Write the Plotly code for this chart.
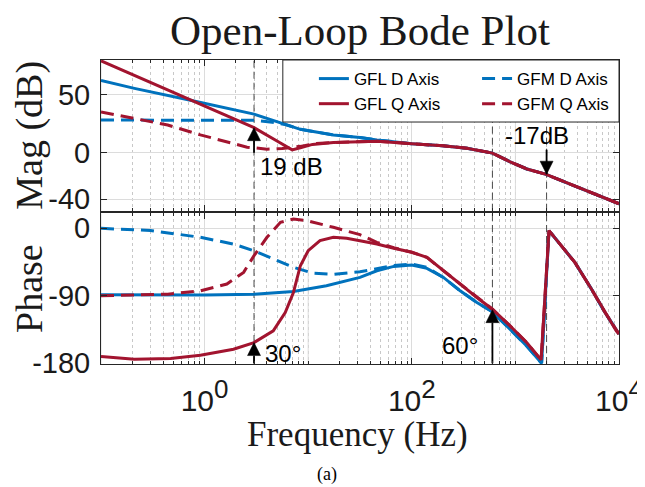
import numpy as np
import plotly.graph_objects as go
from plotly.subplots import make_subplots

# ---------------- data ----------------
# Magnitude (dB)
mag_gfl_d_f = [0.1, 0.21, 0.73, 3, 6, 8.4, 17.5, 31.6, 46, 100, 200, 340, 600, 890, 1290, 1950, 3750, 9440, 10000]
mag_gfl_d = [62.3, 55.5, 45.2, 33.3, 24.4, 20.2, 15.3, 13.2, 11.1, 7.7, 6.0, 3.9, -0.3, -7.8, -14.0, -18.5, -28.8, -43.0, -44.0]

mag_gfm_d_f = [0.1, 0.5, 1, 3, 4.5, 6, 8.4, 17.5, 31.6, 46, 100, 200, 340, 600, 890, 1290, 1950, 3750, 9440, 10000]
mag_gfm_d = [28.2, 28.2, 28.1, 28.0, 26.3, 24.4, 20.2, 15.3, 13.2, 11.1, 7.7, 6.0, 3.9, -0.3, -7.8, -14.0, -18.5, -28.8, -43.0, -44.0]

mag_gfl_q_f = [0.1, 0.73, 3, 5, 7, 8.4, 11, 17.5, 31.6, 46, 100, 200, 340, 600, 890, 1290, 1950, 3750, 9440, 10000]
mag_gfl_q = [79.3, 45.2, 21.6, 10.1, 2.5, 4.3, 7.2, 8.8, 9.6, 10.0, 7.7, 6.0, 3.9, -0.3, -7.8, -14.0, -18.5, -28.8, -43.0, -44.0]

mag_gfm_q_f = [0.1, 0.44, 0.91, 2.57, 4, 5.6, 8.4, 12, 17.5, 31.6, 46, 100, 200, 340, 600, 890, 1290, 1950, 3750, 9440, 10000]
mag_gfm_q = [35.2, 23.9, 15.4, 4.8, 3.1, 3.6, 5.5, 7.9, 8.8, 9.6, 10.0, 7.7, 6.0, 3.9, -0.3, -7.8, -14.0, -18.5, -28.8, -43.0, -44.0]

# Phase (deg)
ph_gfl_d_f = [0.1, 0.47, 1, 3, 7.2, 15, 31.6, 46, 67, 100, 140, 202, 293, 425, 600, 887, 1285, 1790, 2110, 3750, 5420, 7300, 9440, 10000]
ph_gfl_d = [-88.7, -89, -89, -87.8, -84.2, -76.7, -65.5, -56.6, -50.8, -49, -53.5, -65.5, -83.4, -99, -111.4, -134.6, -157, -180, -3.1, -45.5, -81, -112, -137, -141]

ph_gfm_d_f = [0.1, 0.3, 0.91, 1.9, 3, 4.6, 7.2, 11.2, 17.5, 31.6, 46, 67, 100, 140, 202, 293, 425, 600, 887, 1285, 1790, 2110, 3750, 5420, 7300, 9440, 10000]
ph_gfm_d = [0, -3, -12, -21, -30, -41, -52, -60, -61.5, -58, -54, -49.5, -47.7, -52, -65.5, -83.4, -99, -111.4, -134.6, -157, -180, -3.1, -45.5, -81, -112, -137, -141]

ph_gfl_q_f = [0.1, 0.21, 0.47, 0.91, 1.9, 3, 4.6, 6, 7.2, 8.4, 10, 13, 17.5, 23.5, 31.6, 46, 67, 100, 140, 202, 293, 425, 600, 887, 1285, 1770, 2110, 3750, 5420, 7300, 9440, 10000]
ph_gfl_q = [-171, -174.7, -173.8, -169.4, -161.3, -152.4, -136.8, -112.3, -85.6, -49.9, -29.9, -16.5, -12, -13.4, -16.5, -21, -26.7, -32, -38.8, -56.6, -74.4, -92.3, -107.9, -130, -152.4, -175.5, -3.1, -45.5, -81, -112, -137, -141]

ph_gfm_q_f = [0.1, 0.44, 0.91, 1.64, 2.38, 3, 4, 5.4, 7.2, 9.7, 17.5, 31.6, 46, 67, 100, 140, 202, 293, 425, 600, 887, 1285, 1770, 2110, 3750, 5420, 7300, 9440, 10000]
ph_gfm_q = [-90, -87.8, -83.4, -74.4, -58.8, -36.5, -12, 8, 12.5, 10.3, 1.3, -8.5, -18.7, -26, -32, -38.8, -56.6, -74.4, -92.3, -107.9, -130, -152.4, -175.5, -3.1, -45.5, -81, -112, -137, -141]

marker_freqs = [3, 600, 2000]
mag_ticks = [-40, 0, 50]
mag_tick_text = ["-40", "0", "50"]
phase_ticks = [-180, -90, 0]
phase_tick_text = ["-180", "-90", "0"]
x_labeled = [1, 100, 10000]
x_labeled_exp = ["0", "2", "4"]
x_odd_decades = [0.1, 10, 1000]
x_minor = [m * d for d in [0.1, 1, 10, 100, 1000] for m in range(2, 10)]

# arrows: (freq, tail, tip) ; labels: (freq, value, text, anchor)
mag_arrows = [(3, 0.0, 21.6), (2000, 2.6, -18.5)]
mag_labels = [(3.3, -11.5, "19 dB", "left"), (1620, 15.2, "-17dB", "center")]
ph_arrows = [(3, -180, -152.4), (600, -180, -108.5)]
ph_labels = [(3.7, -167, "30°", "left"), (460, -156.5, "60°", "right")]

series = [
    ("GFL D Axis", "#0072BD", "solid", "legend", mag_gfl_d_f, mag_gfl_d, ph_gfl_d_f, ph_gfl_d),
    ("GFM D Axis", "#0072BD", "13px,7px", "legend2", mag_gfm_d_f, mag_gfm_d, ph_gfm_d_f, ph_gfm_d),
    ("GFL Q Axis", "#A2142F", "solid", "legend", mag_gfl_q_f, mag_gfl_q, ph_gfl_q_f, ph_gfl_q),
    ("GFM Q Axis", "#A2142F", "13px,7px", "legend2", mag_gfm_q_f, mag_gfm_q, ph_gfm_q_f, ph_gfm_q),
]

MAG_RANGE = [-50, 80]
PH_RANGE = [-181, 20]

fig = make_subplots(rows=2, cols=1, shared_xaxes=True, vertical_spacing=0)

# solid grid lines at the unlabeled decades (MATLAB major grid)
for f in x_odd_decades:
    for row, rng in ((1, MAG_RANGE), (2, PH_RANGE)):
        fig.add_trace(go.Scatter(x=[f, f], y=rng, mode="lines", showlegend=False, hoverinfo="skip",
                                 line=dict(color="#dcdcdc", width=1)), row=row, col=1)

# vertical dashed marker lines
for f in marker_freqs:
    for row, rng in ((1, MAG_RANGE), (2, PH_RANGE)):
        fig.add_trace(go.Scatter(x=[f, f], y=rng, mode="lines", showlegend=False, hoverinfo="skip",
                                 line=dict(color="#4a4a4a", width=1, dash="7px,4px")), row=row, col=1)

for name, color, dash, leg, mf, mv, pf, pv in series:
    fig.add_trace(go.Scatter(x=mf, y=mv, mode="lines", name=name, legend=leg, legendgroup=name,
                             line=dict(color=color, width=3, dash=dash)), row=1, col=1)
    fig.add_trace(go.Scatter(x=pf, y=pv, mode="lines", name=name, showlegend=False, legendgroup=name,
                             line=dict(color=color, width=3, dash=dash)), row=2, col=1)

# arrows (shaft + head marker at the tip)
for row, arrows in ((1, mag_arrows), (2, ph_arrows)):
    for f, tail, tip in arrows:
        sym = "arrow-up" if tip > tail else "arrow-down"
        fig.add_trace(go.Scatter(x=[f, f], y=[tail, tip], mode="lines+markers", showlegend=False,
                                 hoverinfo="skip", line=dict(color="black", width=1.8),
                                 marker=dict(symbol=sym, size=[0, 13], color="black", opacity=1,
                                             line=dict(width=0.5, color="black"))), row=row, col=1)

axis_col = "#262626"
tick_font = dict(family="Liberation Sans, Arial", size=29, color="#1a1a1a")
title_font = dict(family="Liberation Serif, Times New Roman", size=38, color="#1a1a1a")
x_tick_text = ["10<sup><span style='font-size:26px'>%s</span></sup>" % e for e in x_labeled_exp]

common_x = dict(type="log", range=[-1, 4], showline=True, linecolor=axis_col, linewidth=1, mirror="ticks",
                ticks="inside", ticklen=6, tickcolor=axis_col, tickmode="array", tickvals=x_labeled,
                ticktext=x_tick_text, showgrid=True, gridcolor="#dcdcdc", gridwidth=1,
                minor=dict(tickmode="array", tickvals=x_minor + x_odd_decades, ticks="inside", ticklen=3,
                           tickcolor=axis_col, showgrid=True, gridcolor="#c8c8c8", griddash="dot", gridwidth=1),
                zeroline=False, tickfont=dict(family="Liberation Sans, Arial", size=30, color="#1a1a1a"),
                automargin=False, ticklabelstandoff=10)
fig.update_xaxes(**common_x)
fig.update_xaxes(showticklabels=False, row=1, col=1)

common_y = dict(showline=True, linecolor=axis_col, linewidth=1, mirror="ticks", ticks="inside", ticklen=6,
                tickcolor=axis_col, showgrid=True, gridcolor="#dcdcdc", gridwidth=1, zeroline=False,
                tickfont=tick_font, tickmode="array", ticklabelstandoff=4, automargin=False)
fig.update_yaxes(**common_y)
fig.update_yaxes(range=MAG_RANGE, tickvals=mag_ticks, ticktext=mag_tick_text, domain=[0.5043, 1],
                 title=dict(text="Mag (dB)", font=title_font, standoff=10), row=1, col=1)
fig.update_yaxes(range=PH_RANGE, tickvals=phase_ticks, ticktext=phase_tick_text, domain=[0, 0.4957],
                 title=dict(text="Phase", font=title_font, standoff=10), row=2, col=1)

ann = []
lab_font = dict(family="Liberation Sans, Arial", size=24, color="black")
for f, v, t, anc in mag_labels:
    ann.append(dict(x=np.log10(f), y=v, xref="x", yref="y", text=t, showarrow=False, xanchor=anc,
                    yanchor="middle", font=lab_font))
for f, v, t, anc in ph_labels:
    ann.append(dict(x=np.log10(f), y=v, xref="x2", yref="y2", text=t, showarrow=False, xanchor=anc,
                    yanchor="middle", font=lab_font))
# x-axis title
ann.append(dict(x=0.496, y=-0.233, xref="paper", yref="paper", text="Frequency (Hz)", showarrow=False,
                xanchor="center", yanchor="middle",
                font=dict(family="Liberation Serif, Times New Roman", size=35, color="#1a1a1a")))
ann.append(dict(x=0.436, y=-0.405, xref="paper", yref="paper", text="(a)", showarrow=False,
                font=dict(family="Liberation Serif, Times New Roman", size=18, color="black")))

leg_font = dict(family="Liberation Sans, Arial", size=17, color="black")
fig.update_layout(
    width=645, height=487,
    margin=dict(l=93, r=34, t=52, b=131, autoexpand=False),
    paper_bgcolor="white", plot_bgcolor="white",
    title=dict(text="Open-Loop Bode Plot", x=0.5457, xanchor="center", y=0.9548, yanchor="middle",
               yref="container", font=dict(family="Liberation Serif, Times New Roman", size=43, color="#1a1a1a")),
    legend=dict(x=0.411, y=0.9966, xanchor="left", yanchor="top", bgcolor="rgba(0,0,0,0)", borderwidth=0,
                font=leg_font, tracegroupgap=0, itemwidth=30),
    legend2=dict(x=0.726, y=0.9966, xanchor="left", yanchor="top", bgcolor="rgba(0,0,0,0)", borderwidth=0,
                 font=leg_font, tracegroupgap=0, itemwidth=30),
    shapes=[dict(type="rect", xref="paper", yref="paper", x0=0.351, x1=1, y0=0.796, y1=1,
                 fillcolor="white", line=dict(color=axis_col, width=1), layer="above")],
    annotations=ann,
    showlegend=True,
)

fig.write_html("out.html")
